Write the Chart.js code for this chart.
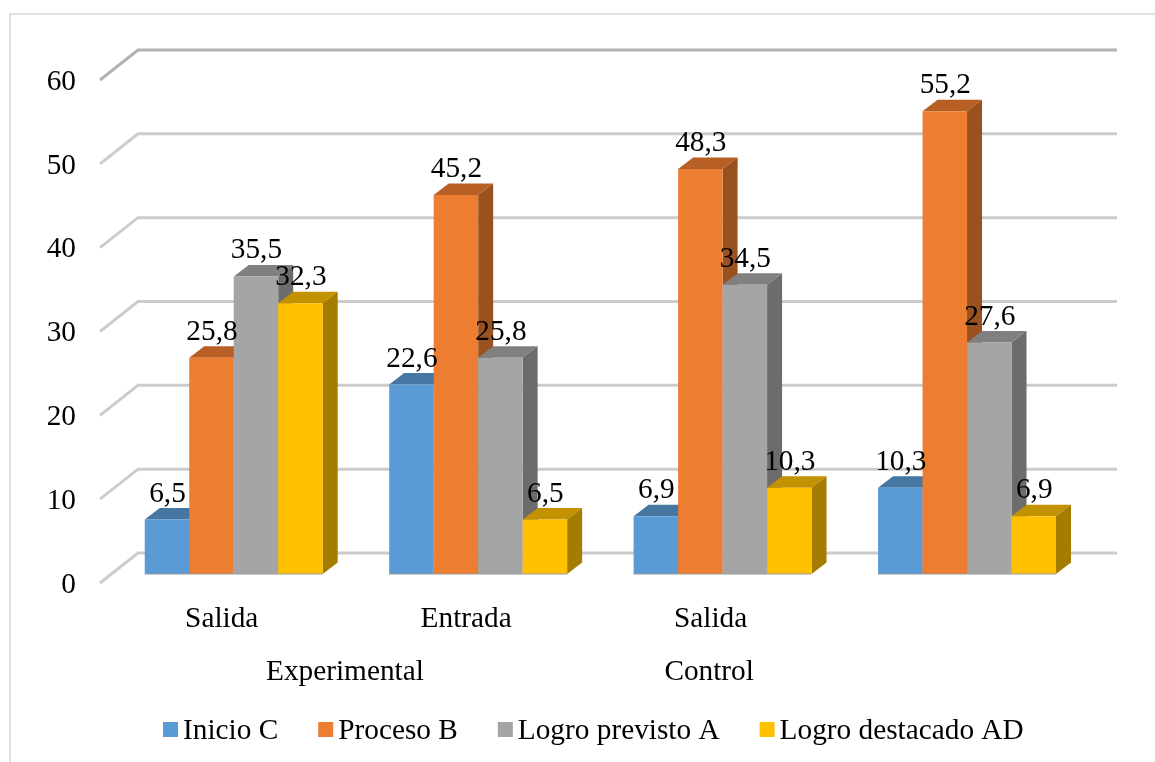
<!DOCTYPE html>
<html lang="es">
<head>
<meta charset="utf-8">
<title>Niveles de logro</title>
<script src="https://cdn.jsdelivr.net/npm/chart.js@4/dist/chart.umd.min.js"></script>
<style>
  html, body { margin: 0; background: #fff; }
  #frame { position: absolute; left: 9px; top: 13px; right: 0; bottom: 0; border-left: 2px solid #e2e2e2; border-top: 2px solid #e2e2e2; }
  canvas { position: absolute; left: 0; top: 0; }
</style>
</head>
<body>
<div id="frame"></div>
<canvas id="myChart" width="1155" height="762"></canvas>
<script>
'use strict';
  const labels = ['Salida', 'Entrada', 'Salida', ''];
  const groupLabels = ['Experimental', 'Control'];
  const groupAnchors = [0.5, 1.99];   // category index under which each group name sits
  const seriesNames = ['Inicio C', 'Proceso B', 'Logro previsto A', 'Logro destacado AD'];

  const inicio = [6.5, 22.6, 6.9, 10.3];
  const proceso = [25.8, 45.2, 48.3, 55.2];
  const previsto = [35.5, 25.8, 34.5, 27.6];
  const destacado = [32.3, 6.5, 10.3, 6.9];
  const yTicks = [0, 10, 20, 30, 40, 50, 60];

  const frontColors = ['#5b9bd5', '#ed7d31', '#a5a5a5', '#ffc000'];
  const topColors = ['#4676a2', '#b85f26', '#808080', '#c29200'];
  const sideColors = ['#3c6690', '#9a5120', '#6c6c6c', '#a47c00'];

  const FONT = '"Liberation Serif", "Times New Roman", serif';
  const FONT_SIZE = 29.3;
  // fake 3D offsets
  const BAR_DX = 15, BAR_DY = 11.5;
  const WALL_X = 138, FLOOR_X = 100, GRID_END = 1117;
  const WALL_DY = 21, FLOOR_DY = 9;

  function face(ctx, pts, color) {
    ctx.fillStyle = color;
    ctx.beginPath();
    pts.forEach(function (p, i) {
      if (i === 0) ctx.moveTo(p[0], p[1]); else ctx.lineTo(p[0], p[1]);
    });
    ctx.closePath();
    ctx.fill();
  }

  // gridlines go back along the floor and then across the wall
  function drawGrid(chart) {
    const ctx = chart.ctx;
    const y = chart.scales.y;
    ctx.save();
    ctx.lineWidth = 3;
    y.ticks.forEach(function (t) {
      const py = y.getPixelForValue(t.value);
      ctx.strokeStyle = t.value === 60 ? '#b2b2b2' : '#cccccc';
      ctx.beginPath();
      ctx.moveTo(FLOOR_X, py + FLOOR_DY);
      ctx.lineTo(WALL_X, py - WALL_DY);
      ctx.lineTo(GRID_END, py - WALL_DY);
      ctx.stroke();
    });
    ctx.restore();
  }

  // series are painted left to right so each bar covers the side of the one before it
  function drawBars(chart) {
    const ctx = chart.ctx;
    chart.data.datasets.forEach(function (ds, i) {
      chart.getDatasetMeta(i).data.forEach(function (bar) {
        const left = bar.x - bar.width / 2;
        const right = bar.x + bar.width / 2;
        face(ctx, [[left, bar.y], [left + BAR_DX, bar.y - BAR_DY], [right + BAR_DX, bar.y - BAR_DY], [right, bar.y]], topColors[i]);
        face(ctx, [[right, bar.y], [right + BAR_DX, bar.y - BAR_DY], [right + BAR_DX, bar.base - BAR_DY], [right, bar.base]], sideColors[i]);
        bar.draw(ctx);
        ctx.fillStyle = '#9c9c9c';
        ctx.fillRect(left, bar.base - 0.5, bar.width, 1);
      });
    });
  }

  const depthPlugin = {
    id: 'depth',
    beforeDatasetsDraw(chart) {
      drawGrid(chart);
      drawBars(chart);
      return false;
    },
    afterDraw(chart) {
      const ctx = chart.ctx;
      ctx.save();
      ctx.fillStyle = '#000';
      ctx.font = FONT_SIZE + 'px ' + FONT;

      // value labels above the top face, decimal comma
      ctx.textAlign = 'center';
      ctx.textBaseline = 'alphabetic';
      chart.data.datasets.forEach(function (ds, i) {
        chart.getDatasetMeta(i).data.forEach(function (bar, j) {
          ctx.fillText(ds.data[j].toFixed(1).replace('.', ','), bar.x + 0.5, bar.y - BAR_DY - 6.5);
        });
      });

      // second level of the category axis
      const x = chart.scales.x;
      ctx.textBaseline = 'middle';
      groupLabels.forEach(function (name, i) {
        ctx.fillText(name, x.getPixelForValue(groupAnchors[i]) - 11, 672);
      });

      // legend, tighter key/text gap than the built-in one allows
      let lx = 163;
      ctx.textAlign = 'left';
      chart.data.datasets.forEach(function (ds, i) {
        ctx.fillStyle = frontColors[i];
        ctx.fillRect(lx, 722, 15, 15);
        ctx.fillStyle = '#000';
        ctx.fillText(ds.label, lx + 20, 731);
        lx += 20 + ctx.measureText(ds.label).width + 40;
      });
      ctx.restore();
    }
  };

  const data = {
    labels: labels,
    datasets: [inicio, proceso, previsto, destacado].map(function (values, i) {
      return { label: seriesNames[i], data: values, backgroundColor: frontColors[i] };
    })
  };

  const config = {
    type: 'bar',
    data: data,
    options: {
      responsive: false,
      animation: false,
      categoryPercentage: 0.728,
      barPercentage: 1,
      layout: { padding: { top: 71, right: 65.75, bottom: 0, left: 0 } },
      plugins: { legend: { display: false }, tooltip: { enabled: false } },
      scales: {
        x: {
          grid: { display: false, drawTicks: false },
          border: { display: false },
          afterFit(scale) { scale.height = 188; },
          ticks: {
            color: '#000',
            font: { family: FONT, size: FONT_SIZE },
            padding: 28,
            labelOffset: -12,
            maxRotation: 0,
            autoSkip: false
          }
        },
        y: {
          min: 0,
          max: 60,
          afterBuildTicks(scale) { scale.ticks = yTicks.map(function (v) { return { value: v }; }); },
          afterFit(scale) { scale.width = 111.5; },
          grid: { display: false, drawTicks: false },
          border: { display: false },
          ticks: {
            color: '#000',
            font: { family: FONT, size: FONT_SIZE },
            padding: 35.5,
            labelOffset: 11
          }
        }
      }
    },
    plugins: [depthPlugin]
  };

  const myChart = new Chart(document.getElementById('myChart'), config);
</script>
</body>
</html>
